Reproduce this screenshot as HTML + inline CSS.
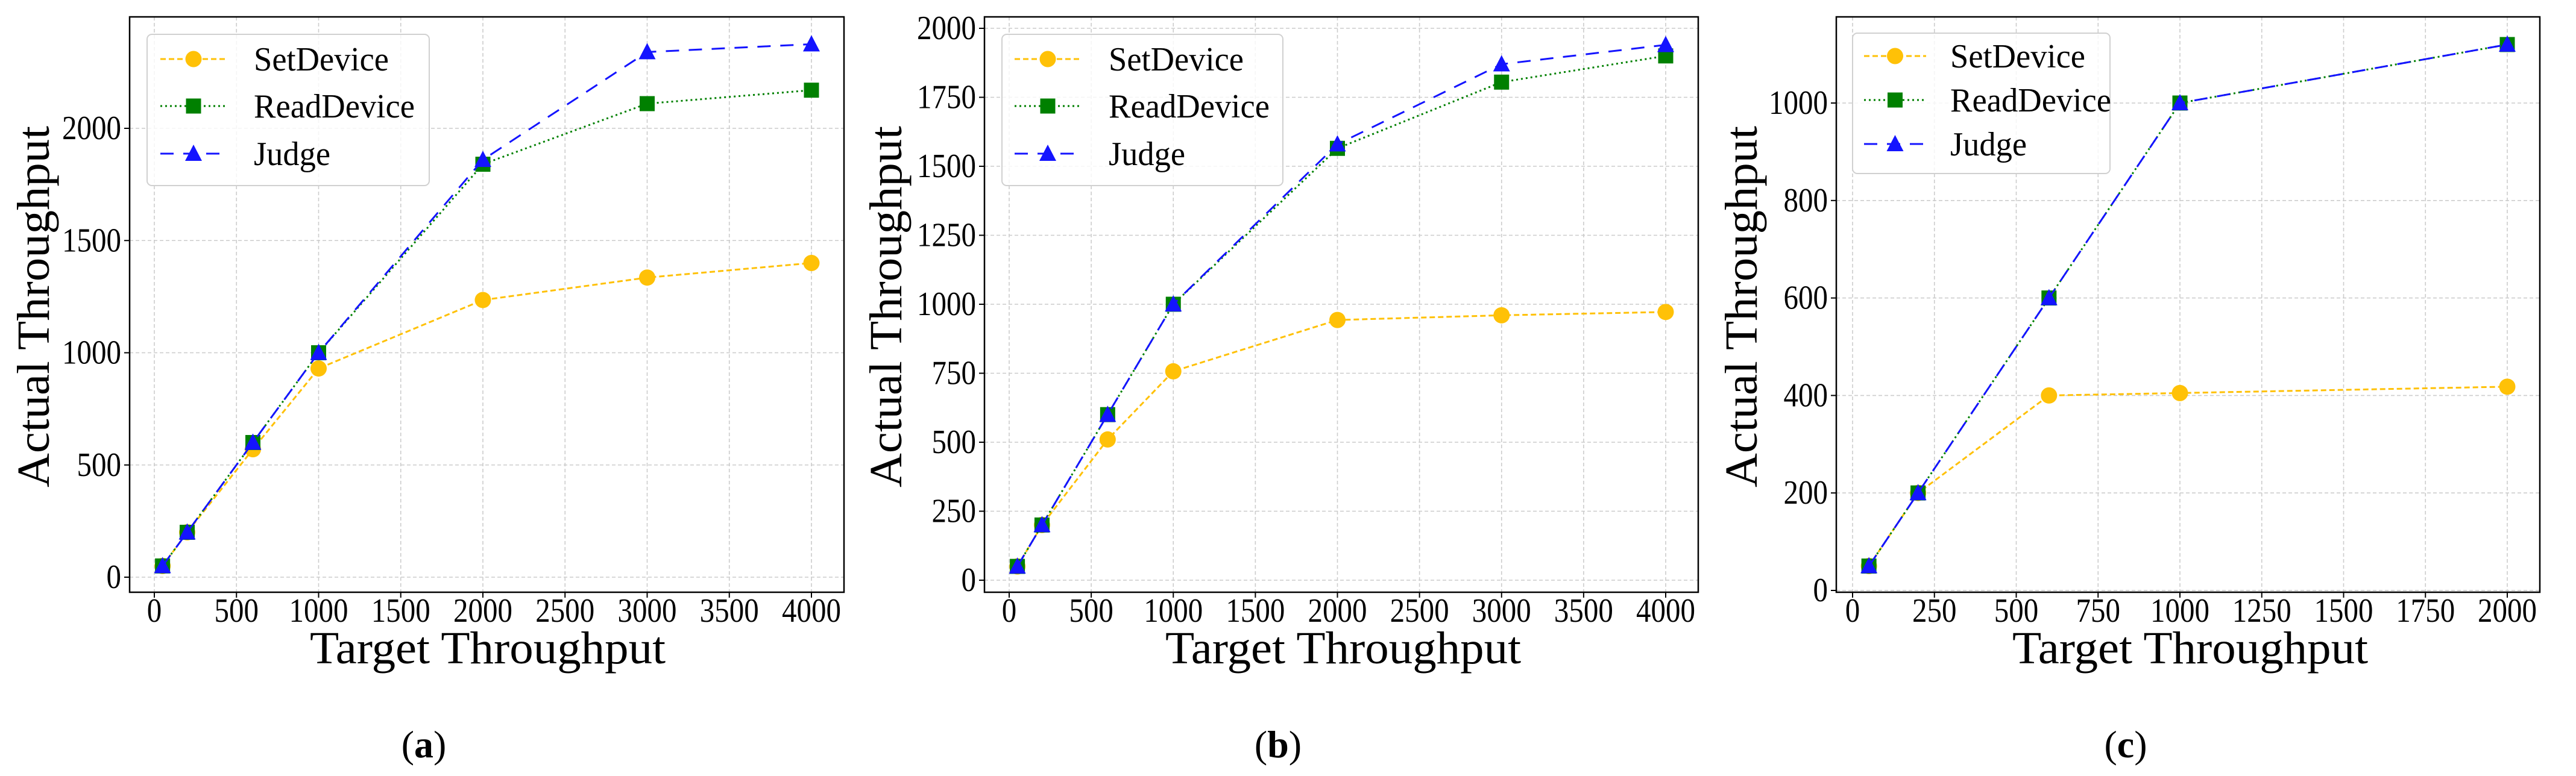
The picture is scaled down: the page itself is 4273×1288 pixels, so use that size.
<!DOCTYPE html>
<html><head><meta charset="utf-8"><style>
html,body{margin:0;padding:0;background:#fff;}
svg{display:block;}
svg text{font-family:"Liberation Serif","DejaVu Serif",serif;}
</style></head><body>
<svg id="fig" width="4273" height="1288" viewBox="0 0 4273 1288" xmlns="http://www.w3.org/2000/svg"></svg>
<script>
// ---- data ----
const xA = [50, 200, 600, 1000, 2000, 3000, 4000];
const setA = [50, 200, 570, 930, 1235, 1335, 1400];
const readA = [50, 200, 600, 1000, 1840, 2110, 2170];
const judgeA = [50, 200, 600, 1000, 1860, 2340, 2375];

const xB = [50, 200, 600, 1000, 2000, 3000, 4000];
const setB = [50, 200, 510, 757, 943, 960, 972];
const readB = [50, 200, 600, 1000, 1565, 1805, 1900];
const judgeB = [50, 200, 600, 1000, 1580, 1870, 1940];

const xC = [50, 200, 600, 1000, 2000];
const setC = [50, 200, 400, 405, 418];
const readC = [50, 200, 600, 1000, 1120];
const judgeC = [50, 200, 600, 1000, 1120];

const xTicksAB = [0, 500, 1000, 1500, 2000, 2500, 3000, 3500, 4000];
const xTicksC = [0, 250, 500, 750, 1000, 1250, 1500, 1750, 2000];
const yTicksA = [0, 500, 1000, 1500, 2000];
const yTicksB = [0, 250, 500, 750, 1000, 1250, 1500, 1750, 2000];
const yTicksC = [0, 200, 400, 600, 800, 1000];
const seriesNames = ["SetDevice", "ReadDevice", "Judge"];
const panelLabels = ["a", "b", "c"];

const NS = "http://www.w3.org/2000/svg";
const FONT = '"Liberation Serif", "DejaVu Serif", serif';
const svg = document.getElementById("fig");
function mk(tag, attrs, parent) {
  const e = document.createElementNS(NS, tag);
  for (const k in attrs) e.setAttribute(k, attrs[k]);
  if (tag === "text") e.setAttribute("font-family", FONT);
  (parent || svg).appendChild(e);
  return e;
}

const COLORS = ["#FFC107", "#008000", "#1414FF"];
const DASH = ["9,5", "3,5", "22,16"];

function marker(g, kind, cx, cy, color) {
  let m;
  if (kind === 0) m = mk("circle", {cx: cx, cy: cy, r: 13.5, fill: color}, g);
  else if (kind === 1) m = mk("rect", {x: cx - 12.5, y: cy - 12.5, width: 25, height: 25, fill: color}, g);
  else m = mk("polygon", {points: `${cx},${cy - 15} ${cx - 14},${cy + 12} ${cx + 14},${cy + 12}`, fill: color}, g);
  return m;
}

function panel(cfg) {
  const g = mk("g", {});
  
  
  const sx = v => cfg.px0 + (v - cfg.xv0) / (cfg.xv1 - cfg.xv0) * (cfg.px1 - cfg.px0);
  const sy = v => cfg.py0 + (v - cfg.yv0) / (cfg.yv1 - cfg.yv0) * (cfg.py1 - cfg.py0);
  const grid = mk("g", {stroke: "#cccccc", "stroke-width": 1.6, "stroke-dasharray": "6,4"}, g);
  
  
  cfg.xt.forEach(t => mk("line", {x1: sx(t), x2: sx(t), y1: cfg.top, y2: cfg.bottom}, grid));
  cfg.yt.forEach(t => mk("line", {x1: cfg.left, x2: cfg.right, y1: sy(t), y2: sy(t)}, grid));
  const xax = mk("g", {}, g);
  
  
  cfg.xt.forEach(t => {
    mk("line", {x1: sx(t), x2: sx(t), y1: cfg.bottom, y2: cfg.bottom + 9, stroke: "#000", "stroke-width": 2}, xax);
    const s = String(t);
    const tx = mk("text", {x: sx(t), y: 1032, "font-size": 56, "text-anchor": "middle", textLength: 24.5 * s.length, lengthAdjust: "spacingAndGlyphs"}, xax);
    tx.textContent = s;
    
    
  });
  const yax = mk("g", {}, g);
  
  
  cfg.yt.forEach(t => {
    mk("line", {x1: cfg.left - 9, x2: cfg.left, y1: sy(t), y2: sy(t), stroke: "#000", "stroke-width": 2}, yax);
    const s = String(t);
    const tx = mk("text", {x: cfg.left - 14, y: sy(t) + 18, "font-size": 56, "text-anchor": "end", textLength: 24.5 * s.length, lengthAdjust: "spacingAndGlyphs"}, yax);
    tx.textContent = s;
    
    
  });
  const ys = [cfg.set, cfg.read, cfg.judge];
  ys.forEach((arr, k) => {
    const sg = mk("g", {}, g);
    
    
    const pts = cfg.x.map((v, i) => sx(v) + "," + sy(arr[i])).join(" ");
    mk("polyline", {points: pts, fill: "none", stroke: COLORS[k], "stroke-width": 3, "stroke-dasharray": DASH[k]}, sg);
    cfg.x.forEach((v, i) => {
      const m = marker(sg, k, sx(v), sy(arr[i]), COLORS[k]);
      
      
    });
  });
  const fr = mk("rect", {x: cfg.left, y: cfg.top, width: cfg.right - cfg.left, height: cfg.bottom - cfg.top, fill: "none", stroke: "#000", "stroke-width": 2.5}, g);
  
  
  const L = cfg.leg;
  const lg = mk("g", {}, g);
  
  
  mk("rect", {x: L.x0, y: L.y0, width: L.x1 - L.x0, height: L.y1 - L.y0, rx: 8, fill: "rgba(255,255,255,0.8)", stroke: "#d0d0d0", "stroke-width": 2}, lg);
  const widths = [224, 267, 127];
  seriesNames.forEach((n, k) => {
    const e = mk("g", {}, lg);
    
    
    const y = L.ys[k];
    mk("line", {x1: L.l0, x2: L.l1, y1: y, y2: y, stroke: COLORS[k], "stroke-width": 3, "stroke-dasharray": DASH[k]}, e);
    marker(e, k, (L.l0 + L.l1) / 2, y, COLORS[k]);
    const t = mk("text", {x: L.tx, y: y + 19, "font-size": 56, textLength: widths[k], lengthAdjust: "spacingAndGlyphs"}, e);
    t.textContent = n;
  });
  const xt = mk("text", {x: cfg.xtc, y: 1101, "font-size": 76, "text-anchor": "middle", textLength: 590, lengthAdjust: "spacingAndGlyphs"}, g);
  xt.textContent = "Target Throughput";
  
  
  const yt = mk("text", {x: 0, y: 0, "font-size": 76, "text-anchor": "middle", textLength: 600, lengthAdjust: "spacingAndGlyphs", transform: `translate(${cfg.ytc + 26},509) rotate(-90)`}, g);
  yt.textContent = "Actual Throughput";
  
  
  const pl = mk("text", {x: cfg.plc, y: 1257, "font-size": 64, "text-anchor": "middle"}, g);
  
  
  const t1 = mk("tspan", {}, pl); t1.textContent = "(";
  const t2 = mk("tspan", {"font-weight": "bold"}, pl); t2.textContent = cfg.label;
  const t3 = mk("tspan", {}, pl); t3.textContent = ")";
}

panel({label: panelLabels[0], left: 215, right: 1400, top: 28, bottom: 983,
  px0: 256, px1: 1346, xv0: 0, xv1: 4000, py0: 958, py1: 213, yv0: 0, yv1: 2000,
  xt: xTicksAB, yt: yTicksA, x: xA, set: setA, read: readA, judge: judgeA,
  leg: {x0: 244, x1: 712, y0: 57, y1: 308, ys: [98, 176, 255], l0: 266, l1: 376, tx: 421},
  xtc: 809, ytc: 55, plc: 703});
panel({label: panelLabels[1], left: 1633, right: 2817, top: 28, bottom: 983,
  px0: 1674, px1: 2763, xv0: 0, xv1: 4000, py0: 963, py1: 47, yv0: 0, yv1: 2000,
  xt: xTicksAB, yt: yTicksB, x: xB, set: setB, read: readB, judge: judgeB,
  leg: {x0: 1662, x1: 2128, y0: 57, y1: 308, ys: [98, 176, 255], l0: 1683, l1: 1793, tx: 1839},
  xtc: 2228, ytc: 1469, plc: 2120});
panel({label: panelLabels[2], left: 3046, right: 4213, top: 28, bottom: 983,
  px0: 3073, px1: 4159, xv0: 0, xv1: 2000, py0: 980, py1: 171, yv0: 0, yv1: 1000,
  xt: xTicksC, yt: yTicksC, x: xC, set: setC, read: readC, judge: judgeC,
  leg: {x0: 3073, x1: 3500, y0: 55, y1: 288, ys: [93, 166, 239], l0: 3092, l1: 3195, tx: 3235},
  xtc: 3633, ytc: 2888, plc: 3526});
</script>
</body></html>
